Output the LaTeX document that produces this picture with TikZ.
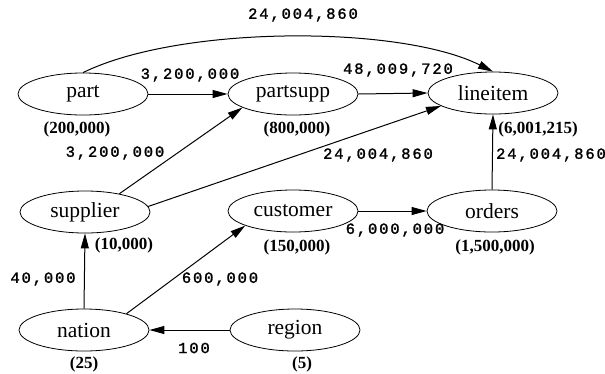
\documentclass[tikz,border=0pt]{standalone}
\usepackage{fontspec}
\setmainfont{Liberation Serif}
\newfontfamily\edgefont[LetterSpace=12,FakeBold=1.5]{Liberation Mono}
\usetikzlibrary{shapes.geometric,arrows.meta}
\tikzset{
  tbl/.style={ellipse,draw,line width=0.8pt,minimum width=130pt,minimum height=42pt,inner sep=0pt,font=\fontsize{21.5}{21.5}\selectfont},
  card/.style={inner sep=0pt,font=\fontsize{17}{17}\selectfont\bfseries},
  elab/.style={inner sep=0pt,font=\fontsize{15.5}{15.5}\selectfont\edgefont},
  conn/.style={line width=1pt,-{Triangle[length=15pt,width=8pt]}}
}
\begin{document}
\begin{tikzpicture}[x=1pt,y=-1pt]
\useasboundingbox (0,0) rectangle (605,373);
% tables
\node[tbl] (part) at (83,94) {part};
\node[tbl] (partsupp) at (293,94) {partsupp};
\node[tbl] (lineitem) at (493,93) {lineitem};
\node[tbl] (supplier) at (85,212) {supplier};
\node[tbl] (customer) at (293,211) {customer};
\node[tbl] (orders) at (492,211) {orders};
\node[tbl] (nation) at (84,330) {nation};
\node[tbl] (region) at (295,330) {region};
% cardinalities
\node[card] (cpart) at (77,129) {(200,000)};
\node[card] (cpartsupp) at (297,129) {(800,000)};
\node[card] (clineitem) at (538,129) {(6,001,215)};
\node[card] (csupplier) at (124,245) {(10,000)};
\node[card] (ccustomer) at (297,247) {(150,000)};
\node[card] (corders) at (495,247) {(1,500,000)};
\node[card] (cnation) at (84,364) {(25)};
\node[card] (cregion) at (302,364) {(5)};
% connectors
\draw[conn] (part.north) .. controls (180,25) and (400,25) .. (lineitem.north);
\draw[conn] (part.east) -- (partsupp.west);
\draw[conn] (partsupp.east) -- (lineitem.west);
\draw[conn] (supplier.28) -- (partsupp.195);
\draw[conn] (supplier.5) -- (lineitem.194);
\draw[conn] (orders.north) -- (lineitem.south);
\draw[conn] (customer.east) -- (orders.west);
\draw[conn] (nation.north) -- (supplier.south);
\draw[conn] (nation.21) -- (customer.197);
\draw[conn] (region.west) -- (nation.east);
% edge labels
\node[elab] (l1) at (303,15) {24,004,860};
\node[elab] (l2) at (190,75) {3,200,000};
\node[elab] (l3) at (398,70) {48,009,720};
\node[elab] (l4) at (115,153) {3,200,000};
\node[elab] (l5) at (378,155) {24,004,860};
\node[elab] (l6) at (551,155) {24,004,860};
\node[elab] (l7) at (395,230) {6,000,000};
\node[elab] (l8) at (43,279) {40,000};
\node[elab] (l9) at (220,279) {600,000};
\node[elab] (l10) at (194,348) {100};
\end{tikzpicture}
\end{document}
